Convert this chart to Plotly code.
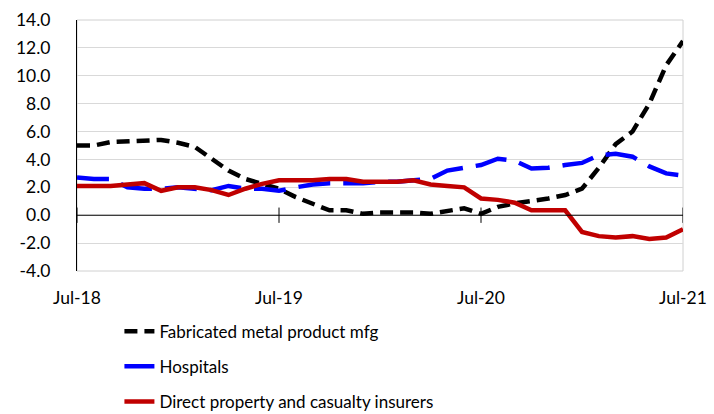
import plotly.graph_objects as go

# Monthly observations, Jul-18 through Jul-21
months = [
    "Jul-18", "Aug-18", "Sep-18", "Oct-18", "Nov-18", "Dec-18",
    "Jan-19", "Feb-19", "Mar-19", "Apr-19", "May-19", "Jun-19",
    "Jul-19", "Aug-19", "Sep-19", "Oct-19", "Nov-19", "Dec-19",
    "Jan-20", "Feb-20", "Mar-20", "Apr-20", "May-20", "Jun-20",
    "Jul-20", "Aug-20", "Sep-20", "Oct-20", "Nov-20", "Dec-20",
    "Jan-21", "Feb-21", "Mar-21", "Apr-21", "May-21", "Jun-21",
    "Jul-21",
]

fabricated_metal = [
    5.0, 5.0, 5.25, 5.3, 5.3, 5.4, 5.2, 4.9, 4.05, 3.2, 2.6, 2.25,
    1.9, 1.3, 0.85, 0.35, 0.35, 0.1, 0.2, 0.2, 0.2, 0.1, 0.3, 0.5,
    0.1, 0.6, 0.85, 1.0, 1.2, 1.45, 1.9, 3.4, 5.1, 6.0, 8.0, 10.75,
    12.5,
]
hospitals = [
    2.7, 2.6, 2.6, 2.0, 1.9, 1.9, 2.0, 1.9, 1.8, 2.1, 1.9, 1.9,
    1.75, 2.0, 2.2, 2.3, 2.3, 2.3, 2.4, 2.4, 2.5, 2.6, 3.2, 3.4,
    3.6, 4.05, 3.9, 3.35, 3.4, 3.6, 3.75, 4.3, 4.4, 4.2, 3.5, 3.0,
    2.85,
]
insurers = [
    2.1, 2.1, 2.1, 2.2, 2.3, 1.75, 2.0, 2.0, 1.8, 1.45, 1.9, 2.25,
    2.5, 2.5, 2.5, 2.6, 2.6, 2.4, 2.4, 2.4, 2.5, 2.2, 2.1, 2.0,
    1.2, 1.1, 0.9, 0.35, 0.35, 0.35, -1.2, -1.5, -1.6, -1.5, -1.7, -1.6,
    -1.0,
]

tick_months = ["Jul-18", "Jul-19", "Jul-20", "Jul-21"]
y_ticks = [-4, -2, 0, 2, 4, 6, 8, 10, 12, 14]

FONT = "Lato, 'Open Sans', sans-serif"

series = [
    ("Fabricated metal product mfg", fabricated_metal, "#000000", "13px,7px"),
    ("Hospitals", hospitals, "#0000FF", "32px,13px"),
    ("Direct property and casualty insurers", insurers, "#C00000", "solid"),
]

fig = go.Figure()
for i, (name, vals, color, dash) in enumerate(series):
    fig.add_trace(go.Scatter(
        x=months, y=vals, name=name, mode="lines",
        legendgroup=f"g{i}",
        line=dict(color=color, width=4.5, dash=dash),
    ))

shapes = [
    # light frame around the plotting area
    dict(type="rect", xref="paper", yref="paper", x0=0, x1=1, y0=0, y1=1,
         line=dict(color="#D0D0D0", width=1), layer="below"),
    # horizontal axis drawn at zero
    dict(type="line", xref="paper", yref="y", x0=0, x1=1, y0=0, y1=0,
         line=dict(color="#000000", width=1), layer="above"),
]
# tick marks crossing the zero line
for m in tick_months:
    shapes.append(dict(type="line", xref="x", yref="y", x0=m, x1=m,
                       y0=-0.55, y1=0.55,
                       line=dict(color="#000000", width=1)))

fig.update_layout(
    width=714, height=414,
    margin=dict(l=77, r=31, t=20, b=143, autoexpand=False),
    paper_bgcolor="white", plot_bgcolor="white",
    font=dict(family=FONT, size=17.5, color="#000000"),
    showlegend=True,
    legend=dict(
        x=0.07, y=-0.17, xanchor="left", yanchor="top",
        orientation="v", traceorder="grouped", tracegroupgap=10,
        font=dict(family=FONT, size=17, color="#000000"),
        bgcolor="rgba(0,0,0,0)",
    ),
    shapes=shapes,
)

fig.update_xaxes(
    type="category", categoryorder="array", categoryarray=months,
    range=[0, len(months) - 1],
    tickmode="array", tickvals=tick_months, ticktext=tick_months,
    ticks="", showgrid=False, zeroline=False, showline=False,
    ticklabelstandoff=14,
    tickfont=dict(family=FONT, size=17.5),
)
fig.update_yaxes(
    range=[-4, 14], tickmode="array", tickvals=y_ticks,
    ticktext=[f"{v:.1f}" for v in y_ticks],
    showgrid=True, gridcolor="#D9D9D9", gridwidth=1,
    zeroline=False, showline=True, linecolor="#000000", linewidth=1,
    ticks="", ticklabelstandoff=22,
    tickfont=dict(family=FONT, size=17.5),
)

fig.write_html("out.html")
